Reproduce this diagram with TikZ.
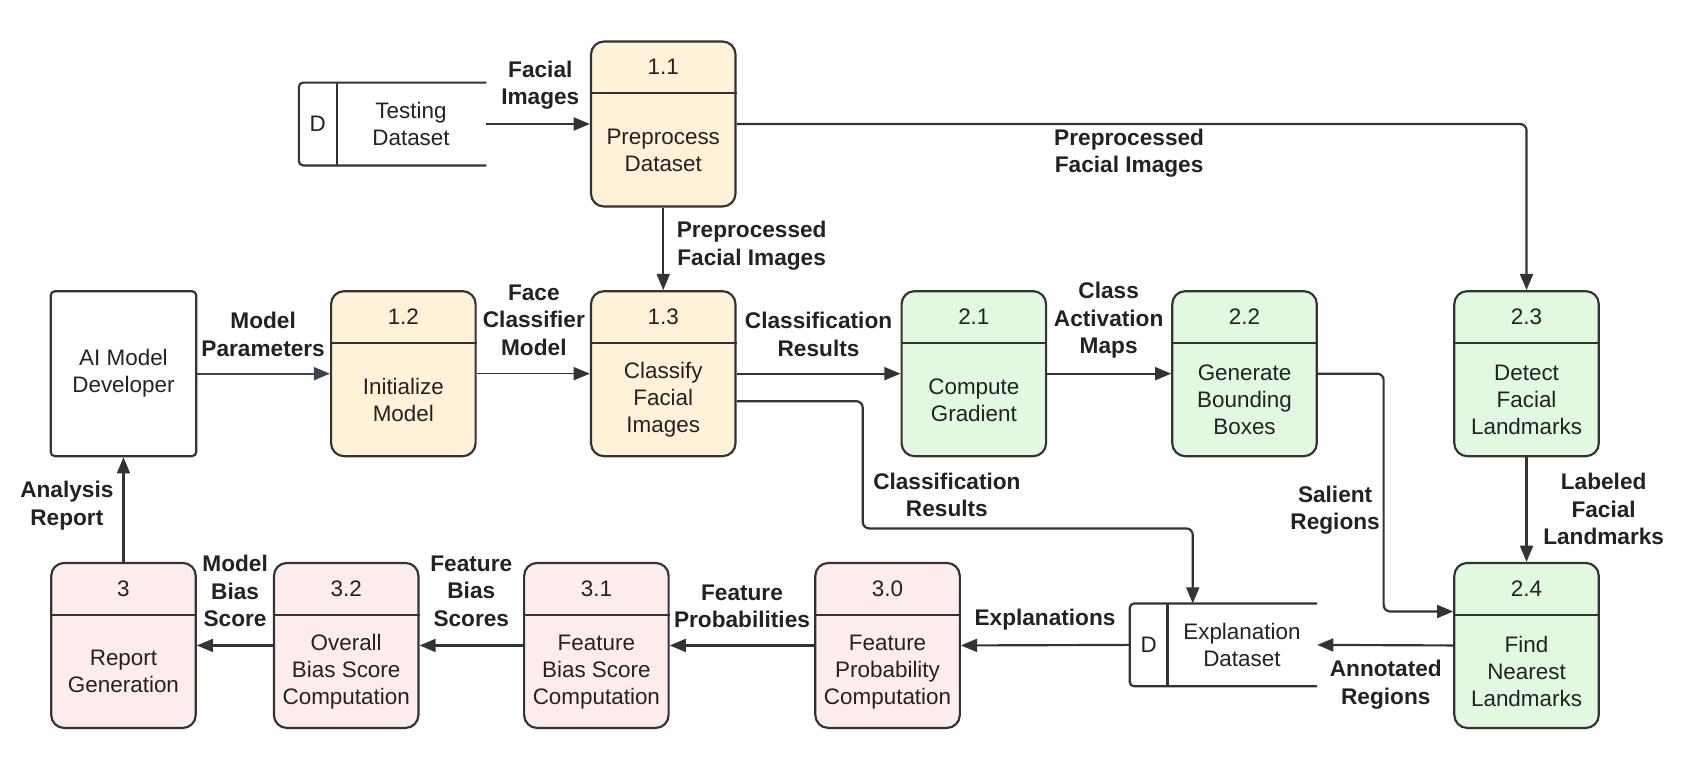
\documentclass[tikz,border=0pt]{standalone}
\usepackage{fontspec}
\setmainfont{Liberation Sans}
\usetikzlibrary{arrows.meta}
\definecolor{cream}{HTML}{FFF2D9}
\definecolor{mint}{HTML}{E1F8E1}
\definecolor{blush}{HTML}{FDECEC}
\definecolor{edgec}{HTML}{333333}
\definecolor{slate}{HTML}{3B4450}
\definecolor{txt}{HTML}{222222}
\newcommand{\bodyfont}{\fontsize{10.4}{12.5}\selectfont}
\newcommand{\lblfont}{\fontsize{10.5}{12.7}\selectfont\bfseries}
\tikzset{
 box/.style={draw=edgec, line width=1pt, rounded corners=6pt, minimum width=67pt, minimum height=76.5pt, inner sep=0pt},
 extbox/.style={draw=edgec, line width=1pt, rounded corners=2pt, minimum width=67.5pt, minimum height=76.5pt, inner sep=0pt, align=center, font=\bodyfont, text=txt},
 flow/.style={draw=edgec, line width=1pt, rounded corners=3pt, -{Triangle[length=7.5pt,width=6pt]}},
 lbl/.style={font=\lblfont, text=txt, align=center, inner sep=0pt},
 body/.style={font=\bodyfont, text=txt, align=center, inner sep=0pt},
 divline/.style={draw=edgec, line width=1pt},
}
\newcommand{\procbox}[6]{%
 \node[box, fill=#4] (#1) at (#2,#3) {};
 \draw[divline] ([yshift=-24.5pt]#1.north west) -- ([yshift=-24.5pt]#1.north east);
 \node[body] (#1n) at ([yshift=-12.25pt]#1.north) {#5};
 \node[body] (#1t) at ([yshift=-12.25pt]#1.center) {#6};
}
\newcommand{\storebox}[4]{%
 \node[minimum width=86.5pt, minimum height=38pt, inner sep=0pt] (#1) at (#2,#3) {};
 \draw[divline, rounded corners=2pt] (#1.north east) -- (#1.north west) -- (#1.south west) -- (#1.south east);
 \draw[divline] ([xshift=17.5pt]#1.north west) -- ([xshift=17.5pt]#1.south west);
 \node[body] (#1d) at ([xshift=8.75pt]#1.west) {D};
 \node[body] (#1t) at ([xshift=52pt]#1.west) {#4};
}
\begin{document}
\begin{tikzpicture}[x=0.5pt,y=-0.5pt]
\useasboundingbox (0,0) rectangle (1568,715);
% processes
\procbox{p11}{615}{115}{cream}{1.1}{Preprocess\\Dataset}
\procbox{p12}{374}{346.5}{cream}{1.2}{Initialize\\Model}
\procbox{p13}{615}{346.5}{cream}{1.3}{Classify\\Facial\\Images}
\procbox{p21}{903}{346.5}{mint}{2.1}{Compute\\Gradient}
\procbox{p22}{1154}{346.5}{mint}{2.2}{Generate\\Bounding\\Boxes}
\procbox{p23}{1415.5}{346.5}{mint}{2.3}{Detect\\Facial\\Landmarks}
\procbox{p24}{1415.5}{598.5}{mint}{2.4}{Find\\Nearest\\Landmarks}
\procbox{p30}{823}{598.5}{blush}{3.0}{Feature\\Probability\\Computation}
\procbox{p31}{553}{598.5}{blush}{3.1}{Feature\\Bias Score\\Computation}
\procbox{p32}{321}{598.5}{blush}{3.2}{Overall\\Bias Score\\Computation}
\procbox{p3}{114.5}{598.5}{blush}{3}{Report\\Generation}
% external entity
\node[extbox] (dev) at (114.5,346.5) {AI Model\\Developer};
% data stores
\storebox{ts}{364}{115}{Testing\\Dataset}
\storebox{es}{1134.5}{598}{Explanation\\Dataset}
% via points
\coordinate (v1) at (800,490);
\coordinate (v2) at (1283,567);
% connectors
\draw[flow] (ts.east) -- (p11.west);
\draw[flow] (p11.east) -| (p23.north);
\draw[flow] (p11.south) -- (p13.north);
\draw[flow, draw=slate] (dev.east) -- (p12.west);
\draw[flow, line width=0.7pt] (p12.east) -- (p13.west);
\draw[flow] (p13.east) -- (p21.west);
\draw[flow] ([yshift=-12.75pt]p13.east) -| (v1) -| ([xshift=-14.25pt]es.north);
\draw[flow] (p21.east) -- (p22.west);
\draw[flow] (p22.east) -| (v2) -- ([yshift=15.75pt]p24.west);
\draw[flow] (p23.south) -- (p24.north);
\draw[flow] (p24.west) -- (es.east);
\draw[flow] (es.west) -- (p30.east);
\draw[flow] (p30.west) -- (p31.east);
\draw[flow] (p31.west) -- (p32.east);
\draw[flow] (p32.west) -- (p3.east);
\draw[flow] (p3.north) -- (dev.south);
% labels
\node[lbl] (l1) at (501,79) {Facial\\Images};
\node[lbl] (l2) at (1047,142) {Preprocessed\\Facial Images};
\node[lbl] (l3) at (697,228) {Preprocessed\\Facial Images};
\node[lbl] (l4) at (244,310) {Model\\Parameters};
\node[lbl] (l5) at (495,297) {Face\\Classifier\\Model};
\node[lbl] (l6) at (759,310) {Classification\\Results};
\node[lbl] (l7) at (1028,297) {Class\\Activation\\Maps};
\node[lbl] (l8) at (878,459) {Classification\\Results};
\node[lbl] (l9) at (1238,473) {Salient\\Regions};
\node[lbl] (l10) at (1487,472) {Labeled\\Facial\\Landmarks};
\node[lbl] (l11) at (1285,635) {Annotated\\Regions};
\node[lbl] (l12) at (969,575) {Explanations};
\node[lbl] (l13) at (688,562) {Feature\\Probabilities};
\node[lbl] (l14) at (437,548) {Feature\\Bias\\Scores};
\node[lbl] (l15) at (218,548) {Model\\Bias\\Score};
\node[lbl] (l16) at (62,469) {Analysis\\Report};
\end{tikzpicture}
\end{document}
